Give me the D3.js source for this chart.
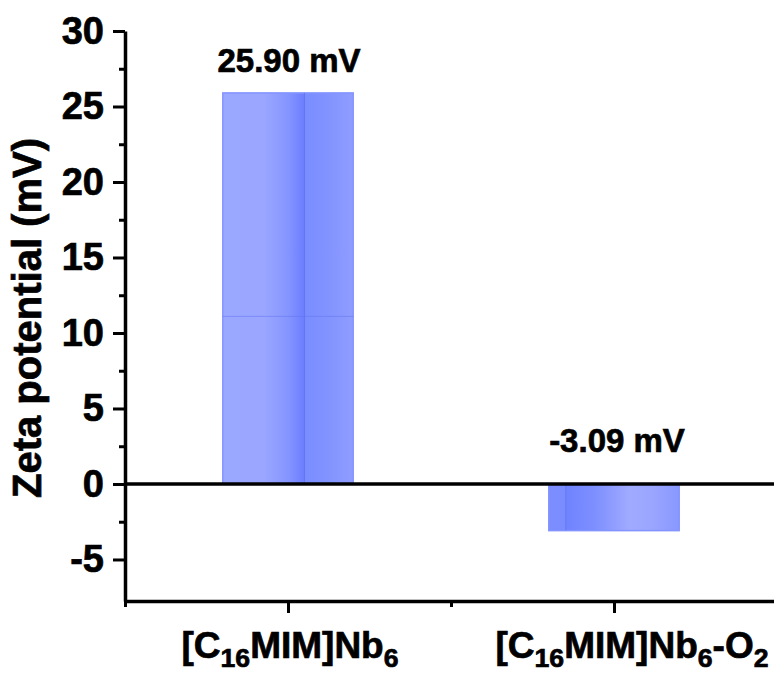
<!DOCTYPE html>
<html>
<head>
<meta charset="utf-8">
<script src="https://cdn.jsdelivr.net/npm/d3@7"></script>
<style>
  html, body { margin: 0; padding: 0; background: #fff; }
  svg { display: block; }
  text { font-family: Arial, "Liberation Sans", sans-serif; font-weight: bold; fill: #000;
         stroke: #000; stroke-width: 0.7px; }
</style>
</head>
<body>
<svg id="chart" width="774" height="675"></svg>
<script>
// ---- data ----
const categories = ["[C_{16}MIM]Nb_{6}", "[C_{16}MIM]Nb_{6}-O_{2}"];
const positions = [1, 2];
const values = [25.90, -3.09];
const valueLabels = ["25.90 mV", "-3.09 mV"];
const seamValues = [11.1, null];
const yMajorTicks = [-5, 0, 5, 10, 15, 20, 25, 30];
const yMinorTicks = [-2.5, 2.5, 7.5, 12.5, 17.5, 22.5, 27.5];
const xMajorTicks = [1, 2];
const xMinorTicks = [0.5, 1.5];
const yTitle = "Zeta potential (mV)";

// ---- layout ----
const svg = d3.select("#chart");
const mLeft = 125, mTop = 31, mBottom = 601;
const x = d3.scaleLinear().domain([0.5, 2.5]).range([mLeft, mLeft + 652]);
const y = d3.scaleLinear().domain([-7.75, 30]).range([mBottom, mTop]);
const barHalf = 0.2;

// gradients
const defs = svg.append("defs");
function grad(id, stops) {
  const g = defs.append("linearGradient").attr("id", id)
    .attr("x1", "0%").attr("x2", "100%").attr("y1", "0%").attr("y2", "0%");
  stops.forEach(s => g.append("stop").attr("offset", s[0]).attr("stop-color", s[1]));
}
grad("g0", [[0, "#9ba8ff"], [0.32, "#9aa6ff"], [0.5, "#8595ff"], [0.627, "#6c7dff"],
            [0.627, "#7a8dff"], [0.8, "#8193ff"], [1, "#909dff"]]);
grad("g1", [[0, "#7b8dff"], [0.13, "#7a8cff"], [0.13, "#6f83ff"], [0.35, "#7d8fff"],
            [0.62, "#a0aaff"], [0.8, "#9aa5ff"], [1, "#8898ff"]]);
const seamFrac = [0.627, 0.13];

// bars
const bars = svg.append("g");
values.forEach((v, i) => {
  const x0 = x(positions[i] - barHalf), x1 = x(positions[i] + barHalf);
  const yTop = y(Math.max(0, v)), yBot = y(Math.min(0, v));
  bars.append("rect")
    .attr("x", x0).attr("y", yTop)
    .attr("width", x1 - x0).attr("height", yBot - yTop)
    .attr("fill", `url(#g${i})`)
    .attr("stroke", "#8494ff").attr("stroke-width", 1.5);
  const xs = x0 + (x1 - x0) * seamFrac[i];
  bars.append("line").attr("x1", xs).attr("x2", xs).attr("y1", yTop).attr("y2", yBot)
    .attr("stroke", "#5f73f0").attr("stroke-opacity", 0.7).attr("stroke-width", 1);
  if (seamValues[i] != null) {
    bars.append("line").attr("x1", x0).attr("x2", x1)
      .attr("y1", y(seamValues[i])).attr("y2", y(seamValues[i]))
      .attr("stroke", "#5f73f0").attr("stroke-opacity", 0.5).attr("stroke-width", 1);
  }
});

// zero line
svg.append("line")
  .attr("x1", mLeft).attr("x2", 774)
  .attr("y1", y(0)).attr("y2", y(0))
  .attr("stroke", "#000").attr("stroke-width", 3.5);

// axes
function styleAxis(g) {
  g.selectAll("path.domain").attr("stroke", "#000").attr("stroke-width", 3.5);
  g.selectAll(".tick line").attr("stroke", "#000").attr("stroke-width", 3);
}
const yAxis = svg.append("g").attr("transform", `translate(${mLeft},0)`)
  .call(d3.axisLeft(y).tickValues(yMajorTicks).tickSize(12).tickSizeOuter(0).tickPadding(9)
    .tickFormat(d => String(d)));
styleAxis(yAxis);
yAxis.selectAll(".tick text")
  .attr("font-family", null)
  .style("font-family", 'Arial, "Liberation Sans", sans-serif')
  .style("font-weight", "bold").attr("font-size", 38).attr("fill", "#000");
const yMinor = svg.append("g").attr("transform", `translate(${mLeft},0)`)
  .call(d3.axisLeft(y).tickValues(yMinorTicks).tickSize(6).tickSizeOuter(0).tickFormat(""));
styleAxis(yMinor);
yMinor.select("path.domain").remove();

const xAxis = svg.append("g").attr("transform", `translate(0,${mBottom})`)
  .call(d3.axisBottom(x).tickValues(xMajorTicks).tickSize(12).tickSizeOuter(0).tickFormat(""));
styleAxis(xAxis);
const xMinor = svg.append("g").attr("transform", `translate(0,${mBottom})`)
  .call(d3.axisBottom(x).tickValues(xMinorTicks).tickSize(6).tickSizeOuter(0).tickFormat(""));
styleAxis(xMinor);
xMinor.select("path.domain").remove();

// category labels with subscripts
function addRich(textSel, str, size) {
  const re = /_\{([^}]*)\}/g;
  let last = 0, m;
  const parts = [];
  while ((m = re.exec(str)) !== null) {
    if (m.index > last) parts.push([str.slice(last, m.index), false]);
    parts.push([m[1], true]);
    last = re.lastIndex;
  }
  if (last < str.length) parts.push([str.slice(last), false]);
  let sub = false;
  parts.forEach(p => {
    const t = textSel.append("tspan").text(p[0]);
    if (p[1]) { t.attr("font-size", size * 0.72); if (!sub) t.attr("dy", 9); sub = true; }
    else { t.attr("font-size", size); if (sub) t.attr("dy", -9); sub = false; }
  });
}
const catDx = [2, 18];
categories.forEach((c, i) => {
  const t = svg.append("text")
    .attr("x", x(positions[i]) + catDx[i]).attr("y", 658)
    .attr("text-anchor", "middle");
  addRich(t, c, 37);
});

// value labels
values.forEach((v, i) => {
  const yy = v >= 0 ? y(v) - 21 : y(0) - 32;
  svg.append("text")
    .attr("x", x(positions[i]) + (v >= 0 ? 1 : 3)).attr("y", yy)
    .attr("text-anchor", "middle").attr("font-size", 33)
    .text(valueLabels[i]);
});

// y title
svg.append("text")
  .attr("transform", `translate(41,${(y(30) + y(-7.75)) / 2 + 2}) rotate(-90)`)
  .attr("text-anchor", "middle").attr("font-size", 40)
  .text(yTitle);
</script>
</body>
</html>
